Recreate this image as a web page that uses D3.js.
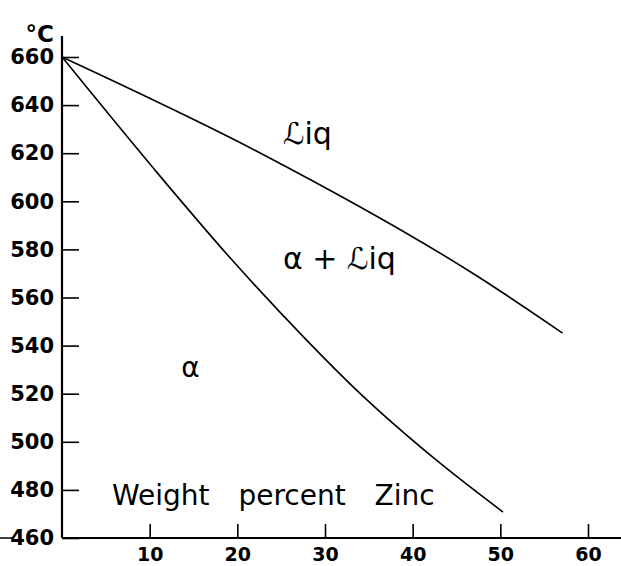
<!DOCTYPE html>
<meta charset="utf-8">
<script src="https://cdn.jsdelivr.net/npm/d3@7"></script>
<style>
    body { margin: 0; background: #fff; }
    text { font-family: "DejaVu Sans", sans-serif; fill: #000; }
</style>
<svg width="621" height="566" class="phase"></svg>
<script>

// tick values
var tempTicks = [460, 480, 500, 520, 540, 560, 580, 600, 620, 640, 660];
var zincTicks = [10, 20, 30, 40, 50, 60];

// liquidus boundary (wt% Zn, deg C)
var liquidusZn = [0, 22.6, 47.7, 57.1];
var liquidusT  = [660, 620.1, 568.1, 545.2];

// solidus boundary
var solidusZn = [0, 10.6, 19.2, 27.9, 33.6, 43.1, 50.3];
var solidusT  = [660, 613.0, 576.4, 542.3, 521.5, 491.2, 470.8];

// phase field labels
var fieldNames = ['ℒiq', 'α + ℒiq', 'α'];
var fieldZn    = [25.2, 25.2, 13.6];
var fieldT     = [624, 572, 527];

var svg = d3.select('svg.phase');

var x = d3.scaleLinear()
    .domain([0, 60])
    .range([62, 588]);

var y = d3.scaleLinear()
    .domain([460, 660])
    .range([538, 57]);

var line = d3.line()
    .x(function(d) { return x(d[0]); })
    .y(function(d) { return y(d[1]); })
    .curve(d3.curveMonotoneX);

// axis lines, a bit longer than the data range like the drawing
svg.append('line')
    .attr('x1', 62).attr('x2', 62)
    .attr('y1', 36).attr('y2', y(460))
    .attr('stroke', '#000').attr('stroke-width', 2.2);

svg.append('line')
    .attr('x1', 62).attr('x2', 621)
    .attr('y1', y(460)).attr('y2', y(460))
    .attr('stroke', '#000').attr('stroke-width', 1.8);

svg.append('line')
    .attr('x1', 0).attr('x2', 13)
    .attr('y1', y(460)).attr('y2', y(460))
    .attr('stroke', '#000').attr('stroke-width', 1.5);

var yAxis = d3.axisLeft(y)
    .tickValues(tempTicks)
    .tickSize(-17)
    .tickPadding(8)
    .tickFormat(d3.format('d'));

var gy = svg.append('g')
    .attr('transform', 'translate(62,0)')
    .call(yAxis);

gy.select('.domain').remove();
gy.selectAll('.tick line').attr('stroke-width', 1.6);
gy.selectAll('.tick text')
    .style('font-size', '21px')
    .style('font-weight', 'bold');

var xAxis = d3.axisBottom(x)
    .tickValues(zincTicks)
    .tickSize(-14)
    .tickPadding(10)
    .tickFormat(d3.format('d'));

var gx = svg.append('g')
    .attr('transform', 'translate(0,' + y(460) + ')')
    .call(xAxis);

gx.select('.domain').remove();
gx.selectAll('.tick line').attr('stroke-width', 1.6);
gx.selectAll('.tick text')
    .style('font-size', '19px')
    .style('font-weight', 'bold');

// unit
svg.append('text')
    .attr('x', 54)
    .attr('y', 42)
    .attr('text-anchor', 'end')
    .style('font-size', '23px')
    .style('font-weight', 'bold')
    .text('°C');

// phase boundaries
svg.append('path')
    .datum(d3.zip(liquidusZn, liquidusT))
    .attr('fill', 'none')
    .attr('stroke', '#000')
    .attr('stroke-width', 1.6)
    .attr('d', line);

svg.append('path')
    .datum(d3.zip(solidusZn, solidusT))
    .attr('fill', 'none')
    .attr('stroke', '#000')
    .attr('stroke-width', 1.6)
    .attr('d', line);

svg.selectAll('text.field')
    .data(fieldNames)
    .enter()
    .append('text')
    .classed('field', true)
    .attr('x', function(d, i) { return x(fieldZn[i]); })
    .attr('y', function(d, i) { return y(fieldT[i]); })
    .style('font-size', function(d, i) { return i === 2 ? '28px' : '30px'; })
    .text(function(d) { return d; });

// axis title sits inside the plot, above the x axis
svg.append('text')
    .attr('x', 112)
    .attr('y', 505)
    .style('font-size', '28px')
    .style('word-spacing', '20px')
    .text('Weight percent Zinc');

</script>
